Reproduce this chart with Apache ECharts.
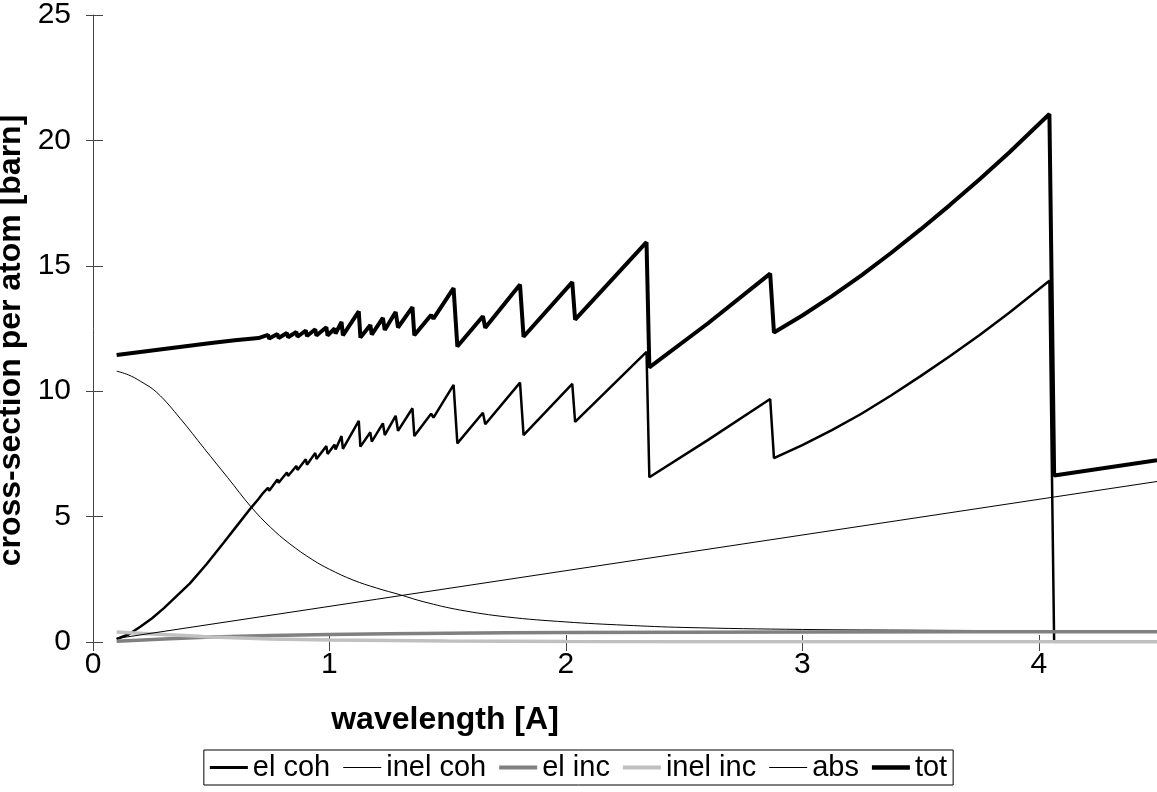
<!DOCTYPE html>
<html>
<head>
<meta charset="utf-8">
<title>cross-section per atom</title>
<script src="https://cdn.jsdelivr.net/npm/echarts@6/dist/echarts.min.js"></script>
<style>
  html, body { margin: 0; padding: 0; background: #fff; }
  #chart { width: 1157px; height: 792px; }
</style>
</head>
<body>
<div id="chart"></div>
<script>
// wavelength grids [A] and cross-sections [barn]
var wlCoh = [0.10, 0.15, 0.20, 0.25, 0.30, 0.35, 0.41, 0.48, 0.55, 0.61, 0.67, 0.70, 0.72,
  0.74, 0.745, 0.78, 0.785, 0.82, 0.825, 0.86, 0.865, 0.90, 0.905, 0.94, 0.945, 0.987, 0.992,
  1.022, 1.026, 1.051, 1.057, 1.124, 1.131, 1.173, 1.179, 1.226, 1.234, 1.28, 1.29, 1.351, 1.359,
  1.43, 1.44, 1.525, 1.541, 1.649, 1.659, 1.806, 1.821, 2.027, 2.039, 2.341, 2.353, 2.60,
  2.864, 2.88, 3.00, 3.125, 3.25, 3.375, 3.50, 3.625, 3.75, 3.875, 4.045, 4.065, 4.50];
var elCoh = [0.12, 0.30, 0.61, 0.95, 1.35, 1.80, 2.34, 3.10, 3.93, 4.65, 5.37, 5.70, 5.95,
  6.15, 6.03, 6.48, 6.35, 6.76, 6.62, 7.02, 6.86, 7.29, 7.07, 7.54, 7.30, 7.81, 7.50,
  7.87, 7.68, 8.21, 7.70, 8.82, 7.79, 8.36, 7.99, 8.72, 8.25, 9.02, 8.42, 9.32, 8.21,
  9.10, 8.95, 10.25, 7.92, 9.14, 8.68, 10.34, 8.25, 10.29, 8.78, 11.57, 6.57, 8.05,
  9.69, 7.33, 7.85, 8.45, 9.10, 9.83, 10.60, 11.40, 12.24, 13.13, 14.40, 0, 0];

var wlTot = [0.10, 0.20, 0.30, 0.40, 0.50, 0.60, 0.70,
  0.74, 0.745, 0.78, 0.785, 0.82, 0.825, 0.86, 0.865, 0.90, 0.905, 0.94, 0.945, 0.987, 0.992,
  1.022, 1.026, 1.051, 1.057, 1.124, 1.131, 1.173, 1.179, 1.226, 1.234, 1.28, 1.29, 1.351, 1.359,
  1.43, 1.44, 1.525, 1.541, 1.649, 1.659, 1.806, 1.821, 2.027, 2.039, 2.341, 2.353, 2.60,
  2.864, 2.88, 3.00, 3.125, 3.25, 3.375, 3.50, 3.625, 3.75, 3.875, 4.045, 4.065, 4.50];
var tot = [11.44, 11.56, 11.68, 11.80, 11.92, 12.03, 12.12,
  12.25, 12.10, 12.28, 12.12, 12.32, 12.15, 12.36, 12.17, 12.42, 12.20, 12.47, 12.22, 12.55, 12.22,
  12.50, 12.30, 12.76, 12.23, 13.18, 12.14, 12.64, 12.26, 12.92, 12.44, 13.16, 12.54, 13.35, 12.23,
  13.04, 12.89, 14.11, 11.78, 12.99, 12.53, 14.25, 12.17, 14.35, 12.85, 15.94, 10.95, 12.70,
  14.69, 12.34, 13.02, 13.79, 14.62, 15.51, 16.45, 17.43, 18.45, 19.52, 21.05, 6.64, 7.25];

var wlSmooth = [0.10, 0.15, 0.20, 0.27, 0.37, 0.47, 0.57, 0.67, 0.75, 0.83, 0.93, 1.00, 1.10, 1.20,
  1.30, 1.40, 1.55, 1.75, 2.00, 2.25, 2.50, 3.00, 3.50, 4.00, 4.50];
var inelCoh = [10.80, 10.65, 10.40, 9.95, 8.90, 7.72, 6.55, 5.37, 4.58, 3.93, 3.27, 2.90, 2.47, 2.15,
  1.88, 1.60, 1.28, 1.00, 0.80, 0.67, 0.58, 0.50, 0.47, 0.45, 0.44];

var wlInc = [0.10, 0.30, 0.50, 0.75, 1.00, 1.50, 2.00, 3.00, 4.50];
var elInc = [0.03, 0.12, 0.20, 0.26, 0.30, 0.35, 0.38, 0.40, 0.41];
var inelInc = [0.40, 0.30, 0.20, 0.12, 0.08, 0.04, 0.02, 0.01, 0.01];

var wlAbs = [0.10, 4.50];
var absXs = [0.14, 6.40];

var yTicks = [0, 5, 10, 15, 20, 25];

function pairs(xs, ys) {
  return xs.map(function (x, i) { return [x, ys[i]]; });
}

var font = 'Liberation Sans, Arial, sans-serif';

// legend key: a horizontal bar of given thickness inside a 38x14 box
function keyIcon(t) {
  var y0 = 7 - t / 2, y1 = 7 + t / 2;
  return 'path://M0,0 H0.01 M0,14 H0.01 M0,' + y0 + ' H38 V' + y1 + ' H0 Z';
}

function lineSeries(name, xs, ys, color, width, smooth) {
  return {
    name: name,
    type: 'line',
    data: pairs(xs, ys),
    symbol: 'none',
    smooth: smooth || false,
    animation: false,
    lineStyle: { color: color, width: width },
    itemStyle: { color: color }
  };
}

var chart = echarts.init(document.getElementById('chart'));
chart.setOption({
  backgroundColor: '#fff',
  animation: false,
  grid: { left: 93, right: 0, top: 15, bottom: 150, containLabel: false, outerBoundsMode: 'none' },
  legend: {
    left: 'center',
    top: 750,
    orient: 'horizontal',
    itemWidth: 38,
    itemHeight: 14,
    itemGap: 13,
    padding: [3, 6, 3, 6],
    borderColor: '#000',
    borderWidth: 1,
    textStyle: { fontFamily: font, fontSize: 29, color: '#000' },
    data: [
      { name: 'el coh', icon: keyIcon(3) },
      { name: 'inel coh', icon: keyIcon(1.2) },
      { name: 'el inc', icon: keyIcon(4) },
      { name: 'inel inc', icon: keyIcon(4) },
      { name: 'abs', icon: keyIcon(1.2) },
      { name: 'tot', icon: keyIcon(4.5) }
    ]
  },
  xAxis: [{
    type: 'value',
    min: 0,
    max: 4.5,
    interval: 1,
    name: 'wavelength [A]',
    nameLocation: 'middle',
    nameGap: 62,
    nameTextStyle: { fontFamily: font, fontSize: 32, fontWeight: 'bold', color: '#000', padding: [0, 360, 0, 0] },
    axisLine: { show: false },
    axisTick: { show: true, length: 9, lineStyle: { color: '#444' } },
    axisLabel: { fontFamily: font, fontSize: 30, color: '#000', margin: 8, showMaxLabel: false },
    splitLine: { show: false }
  }, {
    type: 'value',
    position: 'bottom',
    min: 0,
    max: 4.5,
    interval: 1,
    axisLine: { show: false },
    axisTick: { show: true, inside: true, length: 7, lineStyle: { color: '#444' } },
    axisLabel: { show: false },
    splitLine: { show: false }
  }],
  yAxis: [{
    type: 'value',
    min: yTicks[0],
    max: yTicks[yTicks.length - 1],
    interval: 5,
    name: 'cross-section per atom [barn]',
    nameLocation: 'middle',
    nameGap: 56,
    nameTextStyle: { fontFamily: font, fontSize: 32, fontWeight: 'bold', color: '#000', padding: [0, 24, 0, 0] },
    axisLine: { show: true, lineStyle: { color: '#444', width: 1 } },
    axisTick: { show: true, length: 7, lineStyle: { color: '#444' } },
    axisLabel: { fontFamily: font, fontSize: 30, color: '#000', margin: 22 },
    splitLine: { show: false }
  }, {
    type: 'value',
    position: 'left',
    min: yTicks[0],
    max: yTicks[yTicks.length - 1],
    interval: 5,
    axisLine: { show: false },
    axisTick: { show: true, inside: true, length: 10, lineStyle: { color: '#444' } },
    axisLabel: { show: false },
    splitLine: { show: false }
  }],
  series: [
    lineSeries('el coh', wlCoh, elCoh, '#000', 2.5),
    lineSeries('inel coh', wlSmooth, inelCoh, '#000', 1, 0.4),
    lineSeries('el inc', wlInc, elInc, '#808080', 3.5, 0.3),
    lineSeries('inel inc', wlInc, inelInc, '#c0c0c0', 3.5, 0.3),
    lineSeries('abs', wlAbs, absXs, '#000', 1),
    lineSeries('tot', wlTot, tot, '#000', 4)
  ]
});
</script>
</body>
</html>
